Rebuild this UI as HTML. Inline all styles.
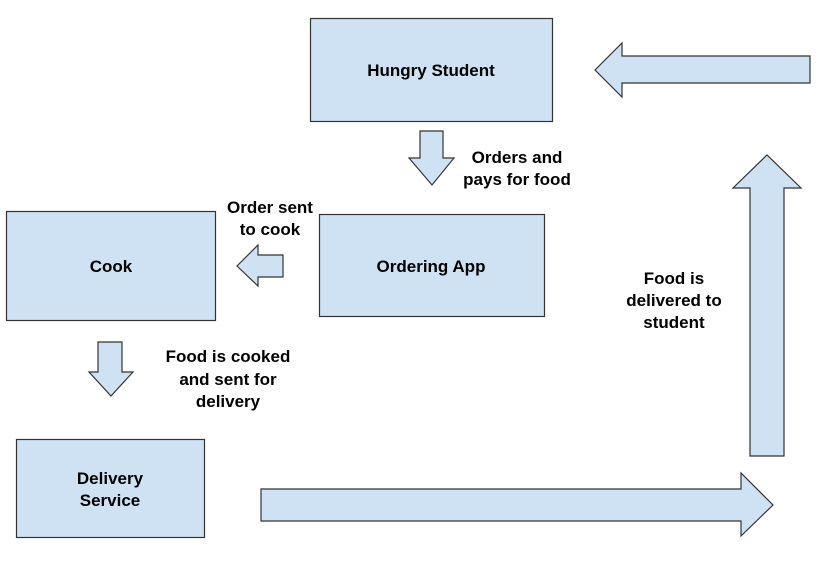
<!DOCTYPE html>
<html><head><style>
body{margin:0;background:#fff;}
svg{display:block;}
text{font-family:"Liberation Sans",sans-serif;font-weight:bold;font-size:17px;fill:#000;text-anchor:middle;}
</style></head><body>
<svg width="831" height="587" viewBox="0 0 831 587">
<g fill="#cfe2f3" stroke="#333" stroke-width="1.2">
<rect x="310.5" y="18.5" width="242" height="103"/>
<rect x="6.5" y="211.5" width="209" height="109"/>
<rect x="319.5" y="214.5" width="225" height="102"/>
<rect x="16.5" y="439.5" width="188" height="98"/>
<polygon points="810,56 622,56 622,43 595,70 622,97 622,83 810,83"/>
<polygon points="420,131 443,131 443,158 454,158 432,185 409,158 420,158"/>
<polygon points="283,255 258,255 258,245 237,266 258,286 258,277 283,277"/>
<polygon points="98,342 122,342 122,372 133,372 111,396 89,372 98,372"/>
<polygon points="261,489 741,489 741,473 773,505 741,536 741,521 261,521"/>
<polygon points="750,456 784,456 784,188 801,188 767,155 733,188 750,188"/>
</g>
<text x="431" y="76">Hungry Student</text>
<text x="111" y="272">Cook</text>
<text x="431" y="272">Ordering App</text>
<text x="110" y="484">Delivery</text>
<text x="110" y="506">Service</text>
<text x="517" y="163">Orders and</text>
<text x="517" y="185">pays for food</text>
<text x="270" y="213">Order sent</text>
<text x="270" y="235">to cook</text>
<text x="228" y="362">Food is cooked</text>
<text x="228" y="385">and sent for</text>
<text x="228" y="407">delivery</text>
<text x="674" y="284">Food is</text>
<text x="674" y="306">delivered to</text>
<text x="674" y="328">student</text>
</svg>
</body></html>
